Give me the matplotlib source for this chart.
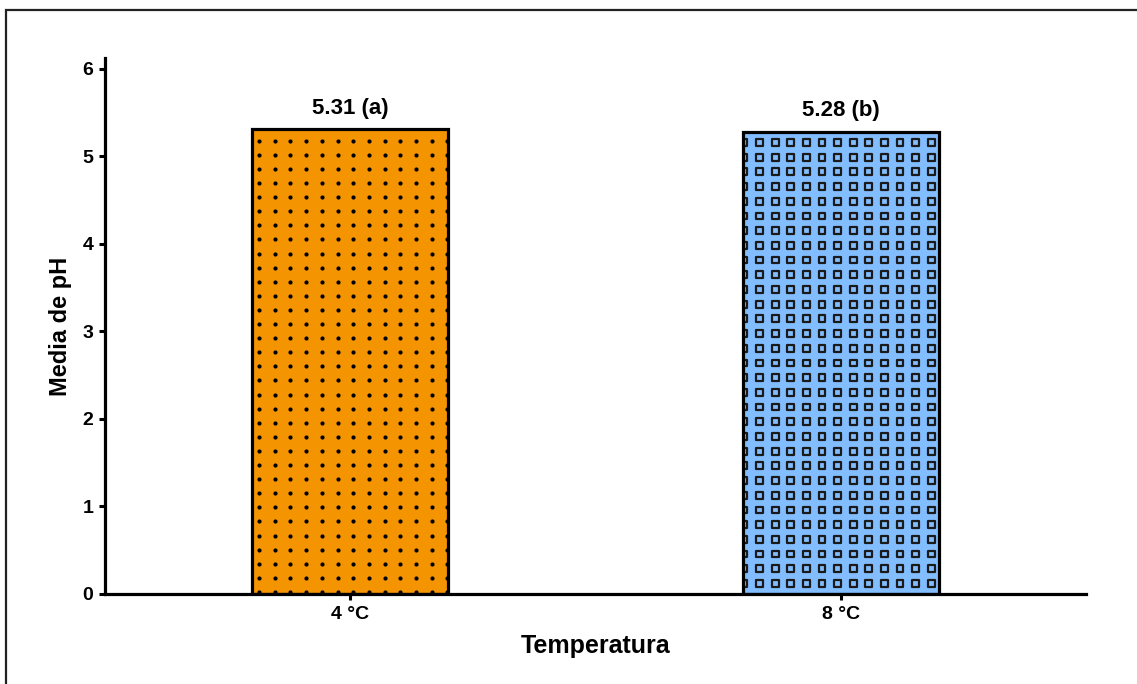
import numpy as np
import matplotlib
matplotlib.use('Agg')
import matplotlib.pyplot as plt
from matplotlib.patches import Rectangle

plt.rcParams['font.family'] = ['Liberation Sans', 'DejaVu Sans']
plt.rcParams['font.weight'] = 'bold'

# Data
temperaturas = ['4 °C', '8 °C']
media_ph = [5.31, 5.28]
letras = ['a', 'b']
colores = ['#F39400', '#82BEFF']

fig = plt.figure(figsize=(11.37, 6.84), dpi=100)
ax = fig.add_axes([0.0923, 0.1316, 0.8627, 0.7834])

x = np.arange(len(temperaturas))
ax.set_xlim(-0.5, 1.5)
ax.set_ylim(0, 6.12)

# fill, then pattern, then outline on top
fills = ax.bar(x, media_ph, width=0.4, color=colores, edgecolor='none', zorder=1)


def pattern(rect, kind):
    # build a pixel-spaced grid inside the bar, clipped to it
    (x0, y0), (x1, y1) = ax.transData.transform(
        [(rect.get_x(), 0), (rect.get_x() + rect.get_width(), rect.get_height())])
    if kind == 'dots':
        xs = np.arange(x0 + 7, x1, 15.7)
        ys = np.arange(y0 + 2, y1, 14.1)
    else:
        xs = np.arange(x0 + 1.5, x1 + 8, 15.6)
        ys = np.arange(y1 - 10.8, y0 - 8, -14.7)
    gx, gy = np.meshgrid(xs, ys)
    pts = ax.transData.inverted().transform(np.column_stack([gx.ravel(), gy.ravel()]))
    if kind == 'dots':
        sc = ax.scatter(pts[:, 0], pts[:, 1], s=9, marker='o', color='black',
                        linewidths=0, zorder=2)
    else:
        sc = ax.scatter(pts[:, 0], pts[:, 1], s=24, marker='s', facecolors='none',
                        edgecolors='#1a1a1a', linewidths=1.6, zorder=2)
    sc.set_clip_path(rect)


pattern(fills[0], 'dots')
pattern(fills[1], 'squares')

ax.bar(x, media_ph, width=0.4, fill=False, edgecolor='black', linewidth=2.3, zorder=3)

for xi, v, l in zip(x, media_ph, letras):
    ax.annotate(f'{v:.2f} ({l})', (xi, v), xytext=(0, 11), textcoords='offset points',
                ha='center', va='baseline', fontsize=16, fontweight='bold')

ax.set_xticks(x)
ax.set_xticklabels(temperaturas)
ax.set_yticks(range(0, 7))
ax.tick_params(axis='both', direction='out', length=4.5, width=2.2, labelsize=14, pad=4)

for s in ['top', 'right']:
    ax.spines[s].set_visible(False)
for s in ['left', 'bottom']:
    ax.spines[s].set_linewidth(2.3)

ax.set_xlabel('Temperatura', fontsize=18, fontweight='bold')
ax.set_ylabel('Media de pH', fontsize=17, fontweight='bold')
ax.xaxis.set_label_coords(0.5, -0.0746)
ax.yaxis.set_label_coords(-0.034, 0.5)

# outer frame of the original figure
fig.add_artist(Rectangle((6 / 1137, -0.2), 1.3, 1.2 - 9.5 / 684,
                         transform=fig.transFigure, fill=False, lw=1.6,
                         edgecolor='#222222', clip_on=False))

fig.savefig('out.png', dpi=100)
